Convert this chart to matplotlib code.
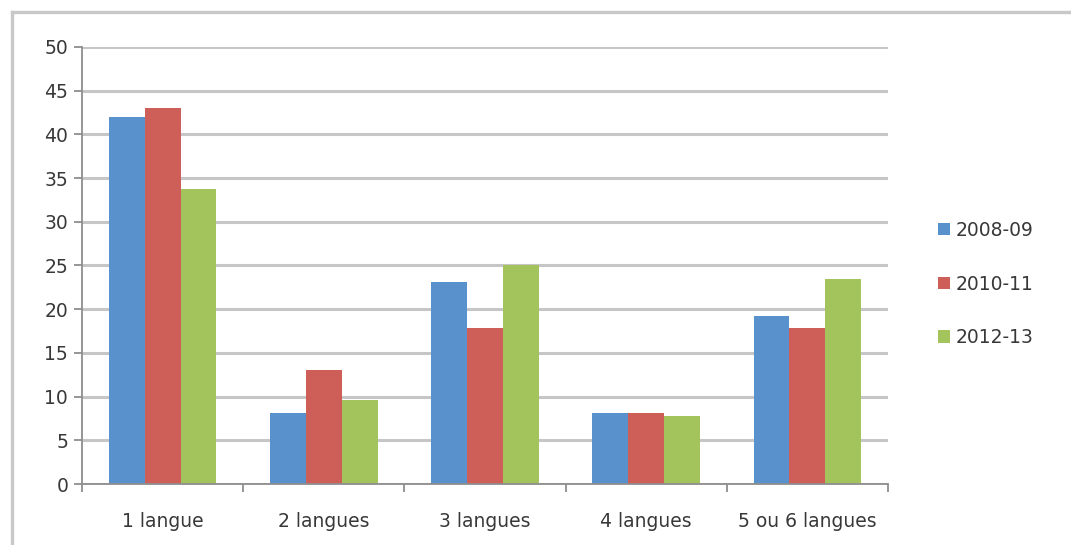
import numpy as np
import matplotlib
matplotlib.use('Agg')
import matplotlib.pyplot as plt
from matplotlib.lines import Line2D
from matplotlib.ticker import FixedLocator

plt.rcParams['font.family'] = ['DejaVu Sans']

categories = ['1 langue', '2 langues', '3 langues', '4 langues', '5 ou 6 langues']
years = ['2008-09', '2010-11', '2012-13']
v_2008 = [42.0, 8.1, 23.1, 8.1, 19.2]
v_2010 = [43.0, 13.0, 17.9, 8.1, 17.9]
v_2012 = [33.8, 9.6, 25.0, 7.8, 23.4]
series = [v_2008, v_2010, v_2012]
colors = ['#5891CC', '#CD5F58', '#A3C45D']

text_col = '#383838'
grid_col = '#C6C6C6'
axis_col = '#8E8E8E'
fs = 13.5

fig = plt.figure(figsize=(10.71, 5.45), dpi=100)
ax = fig.add_axes([0.0766, 0.1119, 0.7524, 0.8019])

x = np.arange(len(categories))
w = 1 / 4.5  # gap width 150%
for i, vals in enumerate(series):
    ax.bar(x + (i - 1) * w, vals, width=w, color=colors[i], label=years[i],
           zorder=3)

ax.set_xlim(-0.5, len(categories) - 0.5)
ax.set_ylim(0, 50)
ax.set_yticks(np.arange(0, 51, 5))
ax.yaxis.grid(True, color=grid_col, linewidth=2.2, zorder=0)
ax.set_axisbelow(True)

ax.set_xticks(x)
ax.set_xticklabels(categories)
ax.xaxis.set_minor_locator(FixedLocator(np.arange(-0.5, len(categories), 1)))
ax.tick_params(axis='x', which='major', length=0, pad=20, labelsize=fs,
               labelcolor=text_col)
ax.tick_params(axis='x', which='minor', length=6, width=1.3, color=axis_col)
ax.tick_params(axis='y', length=6, width=1.3, color=axis_col, pad=4,
               labelsize=fs, labelcolor=text_col)

for s in ['top', 'right']:
    ax.spines[s].set_visible(False)
for s in ['left', 'bottom']:
    ax.spines[s].set_color(axis_col)
    ax.spines[s].set_linewidth(1.3)
    ax.spines[s].set_zorder(4)

leg = fig.legend(loc='center left', bbox_to_anchor=(938 / 1071, 1 - 284 / 545),
                 frameon=False, fontsize=fs, handlelength=0.65,
                 handleheight=0.65, handletextpad=0.3, labelspacing=1.85,
                 borderpad=0, borderaxespad=0)
for t in leg.get_texts():
    t.set_color(text_col)

# light chart border, top and left edges
bx = 12 / 1071
by = 1 - 12 / 545
fig.add_artist(Line2D([bx, 1], [by, by], color='#C8C8C8', linewidth=2.4,
                      transform=fig.transFigure))
fig.add_artist(Line2D([bx, bx], [0, by], color='#C8C8C8', linewidth=2.4,
                      transform=fig.transFigure))

fig.savefig('out.png', dpi=100, facecolor='white')
